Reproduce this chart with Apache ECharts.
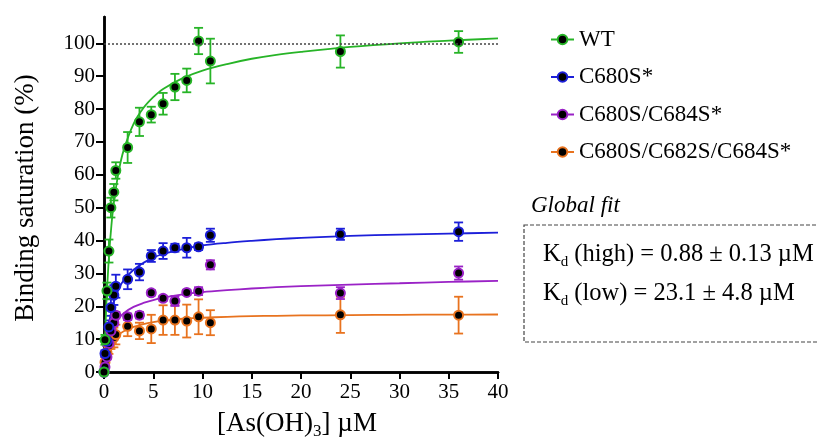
<!DOCTYPE html>
<html>
<head>
<meta charset="utf-8">
<script src="https://cdn.jsdelivr.net/npm/echarts@6/dist/echarts.min.js"></script>
<style>
    html, body { margin: 0; padding: 0; background: #fff; }
    #chart { width: 817px; height: 439px; }
</style>
</head>
<body>
<div id="chart"></div>
<script>
    // concentrations (µM) shared by all constructs
    let conc = [0, 0.1, 0.3, 0.5, 0.7, 1.0, 1.2, 2.4, 3.6, 4.8, 6.0, 7.2, 8.4, 9.6, 10.8, 24, 36];

    let wtY = [0, 9.8, 24.7, 36.8, 50, 54.7, 61.3, 68.3, 76.1, 78.3, 81.6, 86.7, 88.7, 100.7, 94.6, 97.5, 100.4];
    let wtErr = [0, 1.5, 2.5, 3.5, 3, 2.5, 2.5, 4.7, 4.3, 2.4, 3.3, 4, 3.6, 4, 6.8, 4.9, 3.3];

    let c680Y = [0, 5.6, 9.4, 13.7, 19.6, 23.4, 26.1, 28.2, 30.4, 35.3, 36.8, 37.8, 37.8, 38.1, 41.6, 41.9, 42.7];
    let c680Err = [0, 1, 1.5, 2, 2.5, 3, 3.5, 3, 2.5, 1.8, 2.4, 1.2, 3, 1, 2, 1.7, 2.8];

    let c684Y = [0, 1.5, 4.6, 8.7, 12.5, 15, 17.3, 16.8, 17.3, 24.1, 22.4, 21.6, 24.2, 24.6, 32.6, 24.0, 30.1];
    let c684Err = [0, 0.5, 0.8, 1, 1, 1, 1, 1, 1, 0.8, 0.8, 1.5, 0.8, 1.2, 1.4, 1.8, 2];

    let c682Y = [0, 3, 6, 8, 9.5, 10.5, 11.4, 13.9, 12.5, 13.1, 15.8, 15.8, 15.5, 16.8, 15.0, 17.4, 17.3];
    let c682Err = [0, 1.5, 2, 2.5, 2.5, 3, 3, 3, 2.5, 4.3, 4.5, 4.5, 5, 5.3, 3.8, 5.5, 5.6];

    // fitted curves
    let fitX = [0, 0.1, 0.25, 0.5, 0.75, 1, 1.5, 2, 3, 4, 5, 6, 8, 10, 12.5, 15, 17.5, 20, 25, 30, 35, 40];
    let wtFit = [0, 9.8, 21.3, 35, 44.5, 51.5, 61.1, 67.5, 75.5, 80.3, 83.6, 86.1, 89.4, 91.7, 93.7, 95.3, 96.5, 97.4, 98.9, 100, 100.8, 101.5];
    let c680Fit = [0, 4.1, 9, 14.6, 18.5, 21.4, 25.3, 27.9, 31.1, 33.2, 34.8, 35.9, 37.4, 38.5, 39.3, 39.9, 40.4, 40.8, 41.4, 41.8, 42.1, 42.4];
    let c684Fit = [0, 2.6, 5.8, 9.3, 11.8, 13.6, 16.2, 17.9, 19.8, 21, 21.9, 22.6, 23.6, 24.3, 24.9, 25.4, 25.8, 26.1, 26.6, 27, 27.4, 27.7];
    let c682Fit = [0, 1.8, 4, 6.5, 8.2, 9.5, 11.3, 12.4, 13.7, 14.6, 15.2, 15.6, 16.2, 16.5, 16.8, 17, 17.1, 17.2, 17.3, 17.4, 17.45, 17.5];

    let yTicks = [0, 10, 20, 30, 40, 50, 60, 70, 80, 90, 100];
    let xTicks = [0, 5, 10, 15, 20, 25, 30, 35, 40];

    let font = '"Liberation Serif", "Times New Roman", serif';
    let groups = [
        { name: 'WT', color: '#27b427', y: wtY, err: wtErr, fit: wtFit },
        { name: 'C680S*', color: '#1c1fd9', y: c680Y, err: c680Err, fit: c680Fit },
        { name: 'C680S/C684S*', color: '#9a22c6', y: c684Y, err: c684Err, fit: c684Fit },
        { name: 'C680S/C682S/C684S*', color: '#e8731f', y: c682Y, err: c682Err, fit: c682Fit }
    ];

    function errorBars(color) {
        return function (params, api) {
            let x = api.value(0), lo = api.value(1), hi = api.value(2);
            if (hi - lo <= 0) {
                return;
            }
            let top = api.coord([x, hi]);
            let bot = api.coord([x, lo]);
            let w = 4.5;
            let st = { stroke: color, lineWidth: 1.8 };
            return {
                type: 'group',
                children: [
                    { type: 'line', shape: { x1: top[0], y1: top[1], x2: bot[0], y2: bot[1] }, style: st },
                    { type: 'line', shape: { x1: top[0] - w, y1: top[1], x2: top[0] + w, y2: top[1] }, style: st },
                    { type: 'line', shape: { x1: bot[0] - w, y1: bot[1], x2: bot[0] + w, y2: bot[1] }, style: st }
                ]
            };
        };
    }

    let series = [];
    // draw the last construct first so WT ends up on top
    for (let i = groups.length - 1; i >= 0; i--) {
        let g = groups[i];
        series.push({
            name: g.name + ' err',
            type: 'custom',
            renderItem: errorBars(g.color),
            encode: { x: 0, y: [1, 2] },
            z: 2,
            data: conc.map((x, k) => [x, g.y[k] - g.err[k], g.y[k] + g.err[k]])
        });
        series.push({
            name: g.name + ' fit',
            type: 'line',
            smooth: 0.35,
            symbol: 'none',
            z: 3,
            lineStyle: { color: g.color, width: 1.8 },
            data: fitX.map((x, k) => [x, g.fit[k]])
        });
        let pts = {
            name: g.name,
            type: 'line',
            symbol: 'circle',
            symbolSize: 9,
            z: 4,
            itemStyle: { color: '#000', borderColor: g.color, borderWidth: 2 },
            lineStyle: { color: g.color, width: 2, opacity: 0 },
            data: conc.map((x, k) => [x, g.y[k]])
        };
        if (i === 0) {
            pts.markLine = {
                silent: true,
                symbol: 'none',
                label: { show: false },
                lineStyle: { color: '#444', type: [2, 2], width: 1.5 },
                data: [{ yAxis: 100 }]
            };
        }
        series.push(pts);
    }

    let chart = echarts.init(document.getElementById('chart'));
    let option = {
        animation: false,
        backgroundColor: '#fff',
        grid: { left: 104, right: 319, top: 17, bottom: 67 },
        legend: {
            orient: 'vertical',
            left: 545,
            top: 23,
            itemWidth: 23,
            itemHeight: 12,
            itemGap: 14.5,
            lineStyle: { opacity: 1, width: 2 },
            textStyle: { fontFamily: font, fontSize: 23, color: '#000', padding: [0, 0, 0, 0] },
            data: groups.map(g => g.name)
        },
        xAxis: [
            {
                type: 'value',
                min: 0,
                max: 40,
                interval: 5,
                axisLine: { lineStyle: { color: '#000', width: 2.5 } },
                axisTick: { length: 7, lineStyle: { width: 2, color: '#000' }, customValues: xTicks },
                axisLabel: { fontFamily: font, fontSize: 21, color: '#000', margin: 10, customValues: xTicks },
                splitLine: { show: false }
            },
            {
                type: 'value',
                position: 'top',
                min: 0,
                max: 40,
                axisLine: { show: true, lineStyle: { color: '#000', width: 2.5 } },
                axisTick: { show: false },
                axisLabel: { show: false },
                splitLine: { show: false }
            }
        ],
        yAxis: [
            {
                type: 'value',
                min: 0,
                max: 108,
                interval: 10,
                axisLine: { show: true, lineStyle: { color: '#000', width: 2.5 } },
                axisTick: { show: true, length: 7, lineStyle: { width: 2, color: '#000' }, customValues: yTicks },
                axisLabel: { fontFamily: font, fontSize: 21, color: '#000', margin: 9, customValues: yTicks },
                splitLine: { show: false }
            },
            {
                type: 'value',
                position: 'right',
                min: 0,
                max: 108,
                interval: 10,
                axisLine: { show: true, lineStyle: { color: '#000', width: 2.5 } },
                axisTick: { show: true, inside: true, length: 8, lineStyle: { width: 2, color: '#000' }, customValues: yTicks },
                axisLabel: { show: false },
                splitLine: { show: false }
            }
        ],
        graphic: [
            {
                type: 'text',
                x: 26,
                y: 198,
                rotation: Math.PI / 2,
                style: {
                    text: 'Binding saturation (%)',
                    fontFamily: font,
                    fontSize: 27,
                    fill: '#000',
                    align: 'center',
                    verticalAlign: 'middle'
                }
            },
            {
                type: 'text',
                x: 297,
                y: 424,
                style: {
                    text: '{n|[As(OH)}{s|3}{n|] µM}',
                    fontFamily: font,
                    align: 'center',
                    verticalAlign: 'middle',
                    rich: {
                        n: { fontFamily: font, fontSize: 27, fill: '#000', lineHeight: 32 },
                        s: { fontFamily: font, fontSize: 17, fill: '#000', lineHeight: 32, verticalAlign: 'bottom' }
                    }
                }
            },
            {
                type: 'text',
                x: 531,
                y: 206,
                style: {
                    text: 'Global fit',
                    fontFamily: font,
                    fontStyle: 'italic',
                    fontSize: 23,
                    fill: '#000',
                    verticalAlign: 'middle'
                }
            },
            {
                type: 'rect',
                shape: { x: 524, y: 225, width: 310, height: 117 },
                style: { fill: 'none', stroke: '#444', lineWidth: 1.2, lineDash: [4, 2] }
            },
            {
                type: 'text',
                x: 543,
                y: 255,
                style: {
                    text: '{n|K}{s|d}{n| (high) = 0.88 ± 0.13 µM}',
                    verticalAlign: 'middle',
                    rich: {
                        n: { fontFamily: font, fontSize: 24.5, fill: '#000', lineHeight: 30 },
                        s: { fontFamily: font, fontSize: 15, fill: '#000', lineHeight: 30, verticalAlign: 'bottom' }
                    }
                }
            },
            {
                type: 'text',
                x: 543,
                y: 294,
                style: {
                    text: '{n|K}{s|d}{n| (low) = 23.1 ± 4.8 µM}',
                    verticalAlign: 'middle',
                    rich: {
                        n: { fontFamily: font, fontSize: 24.5, fill: '#000', lineHeight: 30 },
                        s: { fontFamily: font, fontSize: 15, fill: '#000', lineHeight: 30, verticalAlign: 'bottom' }
                    }
                }
            }
        ],
        series: series
    };
    chart.setOption(option);
</script>
</body>
</html>
